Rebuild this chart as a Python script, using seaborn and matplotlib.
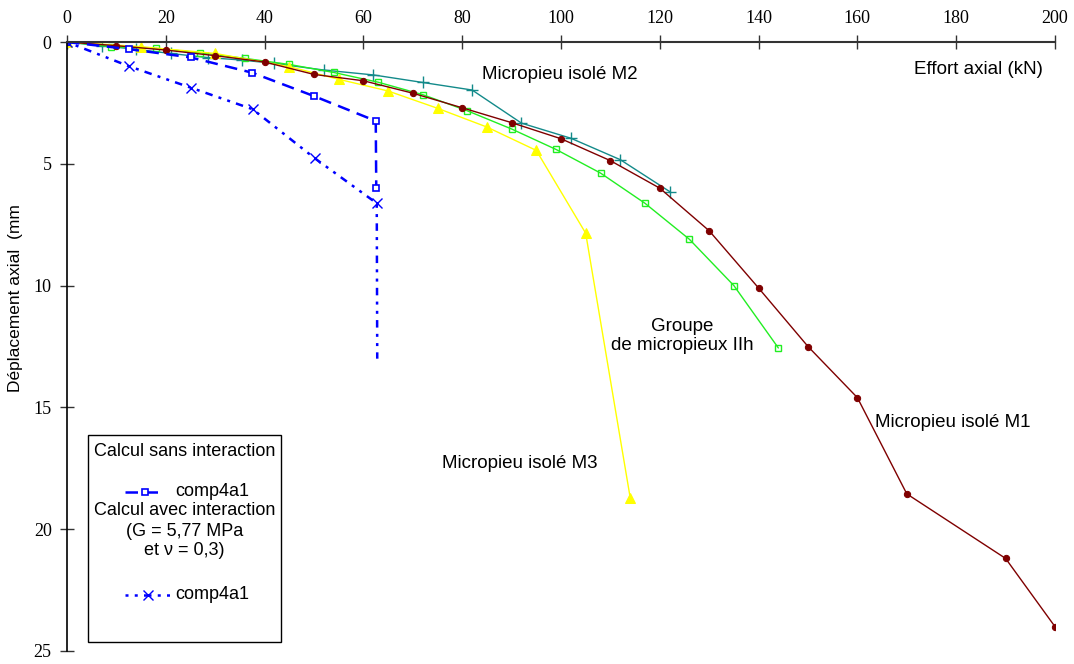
import numpy as np
import pandas as pd
import matplotlib
matplotlib.use("Agg")
import matplotlib.pyplot as plt
from matplotlib.patches import Rectangle
from matplotlib.lines import Line2D
import seaborn as sns

# ---------------- data ----------------
m1_x = [0, 10, 20, 30, 40, 50, 60, 70, 80, 90, 100, 110, 120, 130, 140, 150, 160, 170, 190, 200]
m1_y = [0, 0.15, 0.33, 0.56, 0.82, 1.33, 1.59, 2.1, 2.7, 3.31, 3.97, 4.87, 6.0, 7.75, 10.1, 12.5, 14.6, 18.55, 21.2, 24.0]

m2_x = [0, 7, 14, 21, 28.6, 35.4, 42, 52, 62, 72, 82, 92, 102, 112, 122]
m2_y = [0, 0.15, 0.3, 0.47, 0.64, 0.74, 0.88, 1.15, 1.35, 1.66, 1.97, 3.33, 3.95, 4.83, 6.14]

grp_x = [0, 9, 18, 27, 36, 45, 54, 63, 72, 81, 90, 99, 108, 117, 126, 135, 144]
grp_y = [0, 0.19, 0.26, 0.44, 0.67, 0.92, 1.25, 1.65, 2.16, 2.82, 3.57, 4.41, 5.38, 6.62, 8.1, 10.0, 12.56]

m3_x = [0, 15, 30, 45, 55, 65, 75, 85, 95, 105, 114]
m3_y = [0, 0.19, 0.47, 1.01, 1.53, 2.01, 2.72, 3.49, 4.45, 7.85, 18.7]

sans_x = [0, 12.5, 25, 37.5, 50, 62.5, 62.6]
sans_y = [0, 0.29, 0.63, 1.26, 2.22, 3.24, 6.0]

avec_x = [0, 12.5, 25, 37.6, 50.2, 62.7, 62.8]
avec_y = [0, 0.99, 1.87, 2.76, 4.78, 6.62, 13.0]

x_ticks = [0, 20, 40, 60, 80, 100, 120, 140, 160, 180, 200]
y_ticks = [0, 5, 10, 15, 20, 25]

# ---------------- style ----------------
sns.set_theme(style="white")
plt.rcParams["font.family"] = ["Liberation Sans", "DejaVu Sans"]
plt.rcParams["text.color"] = "black"
plt.rcParams["axes.labelcolor"] = "black"
plt.rcParams["xtick.color"] = "black"
plt.rcParams["ytick.color"] = "black"

fig = plt.figure(figsize=(10.74, 6.64), dpi=100)
ax = fig.add_axes([0.0624, 0.0196, 0.9199, 0.9171])

def draw(x, y, **kw):
    df = pd.DataFrame({"x": x, "y": y})
    sns.lineplot(data=df, x="x", y="y", sort=False, estimator=None, ax=ax, **kw)

BLUE = "#0000ff"
AVEC_DASH = (1.2, 2.5, 1.2, 2.5, 3, 2.5)

draw(m2_x, m2_y, color="#138a8a", lw=1.0, marker="+", markersize=8,
     mew=1.0, mec="#138a8a")
draw(grp_x, grp_y, color="#22ee22", lw=1.0, marker="s", markersize=4.5,
     mfc="none", mec="#22ee22", mew=1.0)
draw(m3_x, m3_y, color="#ffff00", lw=1.0, marker="^", markersize=6.5,
     mfc="#ffff00", mec="#ffff00")
draw(m1_x, m1_y, color="#7f0000", lw=1.0, marker="o", markersize=4.5,
     mfc="#7f0000", mec="#7f0000")
draw(sans_x, sans_y, color=BLUE, lw=1.8, dashes=(5, 3), marker="s",
     markersize=4.5, mfc="white", mec=BLUE, mew=1.2)
draw(avec_x, avec_y, color=BLUE, lw=1.8, dashes=AVEC_DASH,
     marker="x", markersize=7, mew=1.0, mec=BLUE, markevery=[0, 1, 2, 3, 4, 5])

ax.set_xlim(0, 200)
ax.set_ylim(25, 0)
ax.xaxis.tick_top()
ax.set_xticks(x_ticks)
ax.set_yticks(y_ticks)
ax.set_xlabel("")
ax.set_ylabel("Déplacement axial  (mm", fontsize=12.5)
ax.yaxis.set_label_coords(-0.045, 0.58)

for lab in ax.get_xticklabels() + ax.get_yticklabels():
    lab.set_family(["Liberation Serif", "DejaVu Serif"])
    lab.set_fontsize(13)
ax.tick_params(axis="x", direction="inout", length=10, width=1, color="#333333",
               top=True, bottom=False, pad=6)
ax.tick_params(axis="y", direction="inout", length=10, width=1, color="#333333",
               left=True, pad=6)

for s in ["right", "bottom"]:
    ax.spines[s].set_visible(False)
ax.spines["top"].set_color("#333333")
ax.spines["top"].set_linewidth(1.5)
ax.spines["left"].set_color("black")
ax.spines["left"].set_linewidth(1.2)
ax.grid(False)

# annotations
fs = 13.5
ax.text(99.8, 1.35, "Micropieu isolé M2", ha="center", va="center", fontsize=fs)
ax.text(184.6, 1.11, "Effort axial (kN)", ha="center", va="center", fontsize=fs)
ax.text(124.5, 12.07, "Groupe\nde micropieux IIh", ha="center", va="center",
        fontsize=fs, linespacing=1.15)
ax.text(179.4, 15.64, "Micropieu isolé M1", ha="center", va="center", fontsize=fs)
ax.text(91.7, 17.32, "Micropieu isolé M3", ha="center", va="center", fontsize=fs)

# legend box
tr = ax.transAxes
ax.add_patch(Rectangle((0.0213, 0.0148), 0.1953, 0.3399, transform=tr,
                       fill=False, ec="black", lw=1.0, zorder=5))
cx = 0.1189
lfs = 13
ax.text(cx, 0.3284, "Calcul sans interaction", transform=tr, ha="center", va="center", fontsize=lfs)
ax.text(cx, 0.2315, "Calcul avec interaction", transform=tr, ha="center", va="center", fontsize=lfs)
ax.text(cx, 0.197, "(G = 5,77 MPa", transform=tr, ha="center", va="center", fontsize=lfs)
ax.text(cx, 0.1642, "et ν = 0,3)", transform=tr, ha="center", va="center", fontsize=lfs)
ax.text(0.1093, 0.2611, "comp4a1", transform=tr, ha="left", va="center", fontsize=lfs)
ax.text(0.1093, 0.0920, "comp4a1", transform=tr, ha="left", va="center", fontsize=lfs)
ax.add_line(Line2D([0.0587, 0.0992], [0.2611, 0.2611], transform=tr, color=BLUE,
                   lw=1.8, dashes=(5, 3)))
ax.add_line(Line2D([0.0790], [0.2611], transform=tr, marker="s", markersize=4.5,
                   mfc="white", mec=BLUE, mew=1.2, ls="none"))
ax.add_line(Line2D([0.0587, 0.1043], [0.0920, 0.0920], transform=tr, color=BLUE,
                   lw=1.8, dashes=AVEC_DASH))
ax.add_line(Line2D([0.0820], [0.0920], transform=tr, marker="x", markersize=7,
                   color=BLUE, mec=BLUE, mew=1.0, ls="none"))

fig.savefig("out.png", dpi=100)
